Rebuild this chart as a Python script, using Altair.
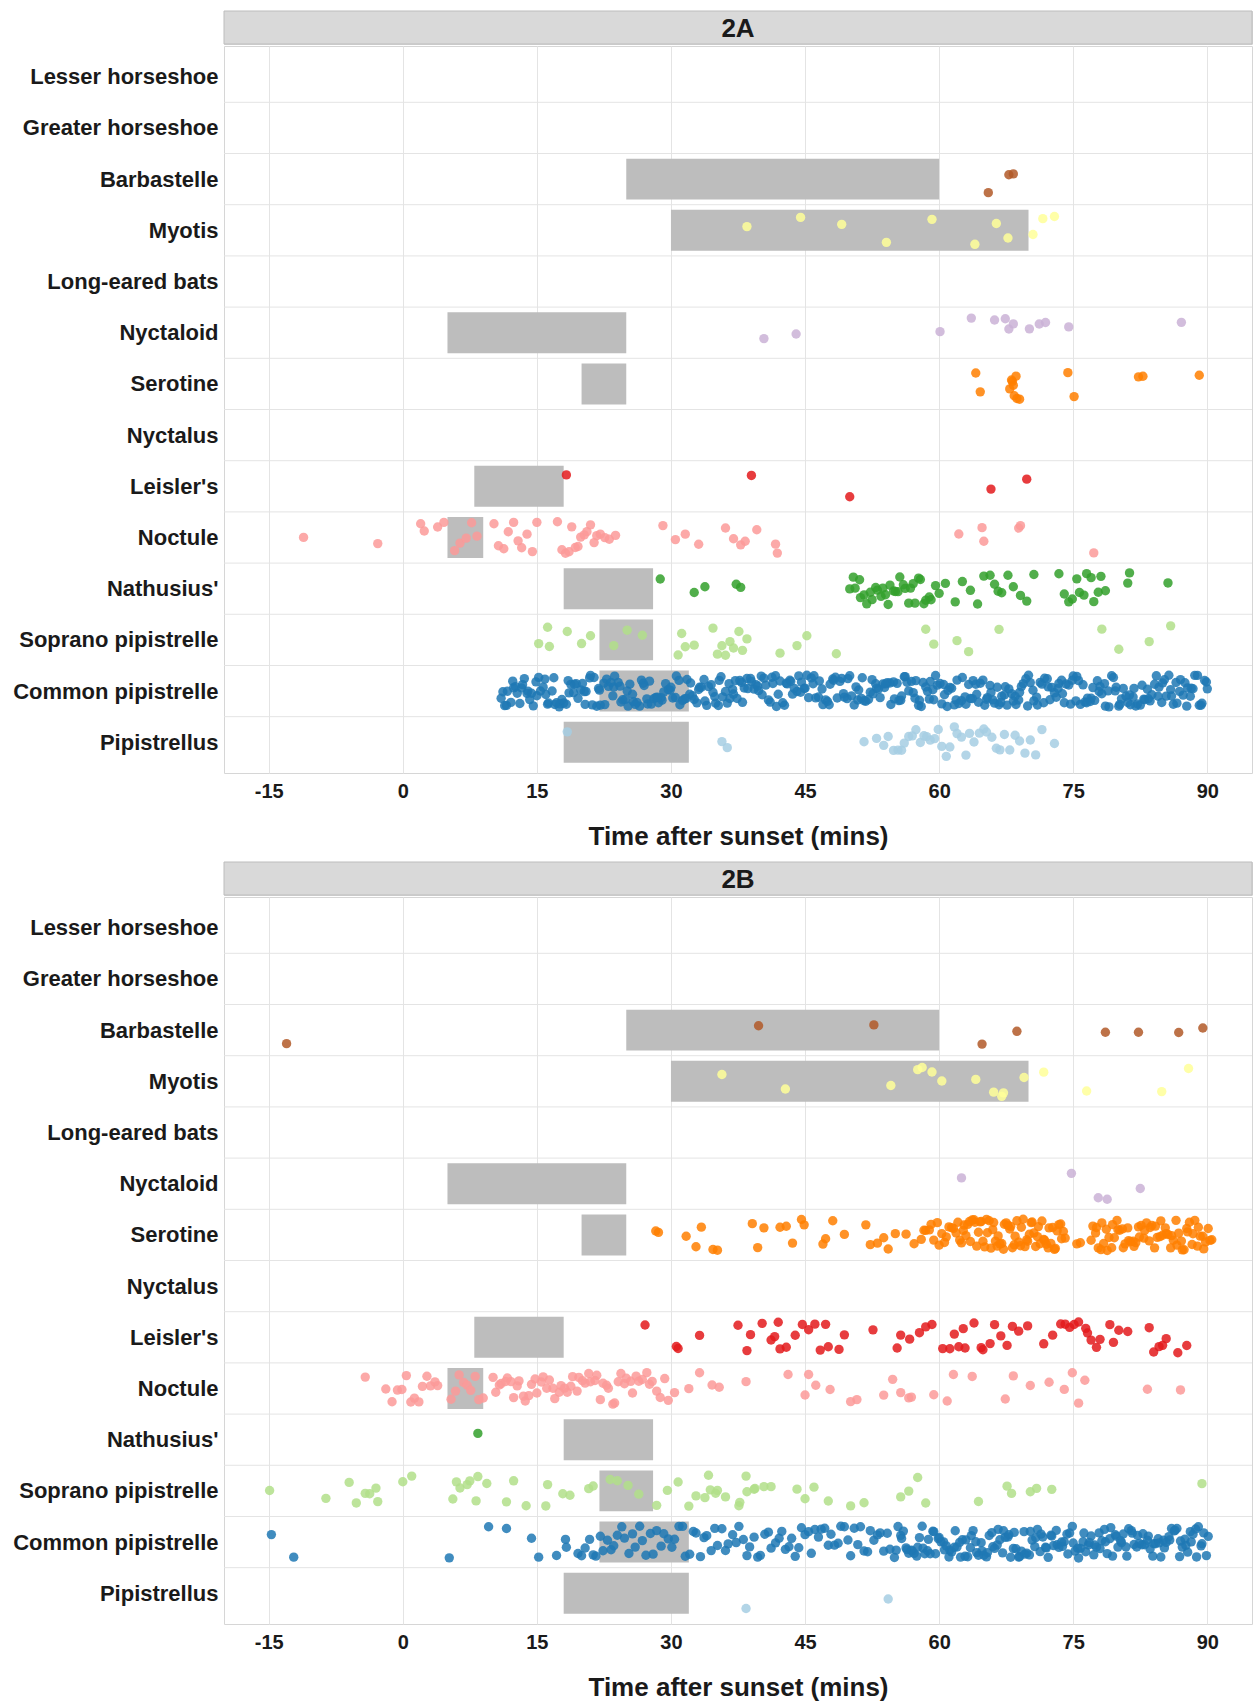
import json
import altair as alt
import pandas as pd

# Species rows, top to bottom
SPECIES = [
    "Lesser horseshoe", "Greater horseshoe", "Barbastelle", "Myotis",
    "Long-eared bats", "Nyctaloid", "Serotine", "Nyctalus", "Leisler's",
    "Noctule", "Nathusius'", "Soprano pipistrelle", "Common pipistrelle",
    "Pipistrellus",
]
COLORS = [
    "#8c8c8c", "#6f6f6f", "#b15928", "#ffff99", "#6a3d9a", "#cab2d6",
    "#ff7f00", "#fdbf6f", "#e31a1c", "#fb9a99", "#33a02c", "#b2df8a",
    "#1f78b4", "#a6cee3",
]

# Expected emergence windows (minutes after sunset)
WINDOW_SPECIES = ["Barbastelle", "Myotis", "Nyctaloid", "Serotine", "Leisler's",
                  "Noctule", "Nathusius'", "Soprano pipistrelle",
                  "Common pipistrelle", "Pipistrellus"]
WINDOW_START = [25, 30, 5, 20, 8, 5, 18, 22, 22, 18]
WINDOW_END = [60, 70, 25, 25, 18, 9, 28, 28, 32, 32]

X_TICKS = [-15, 0, 15, 30, 45, 60, 75, 90]

# ---- Site 2A: first pass times (minutes after sunset) ----
barb_A = [65.5, 67.8, 68.3]
myotis_A = [38.5, 44.5, 49.1, 54.1, 59.2, 64.0, 66.4, 67.7, 70.5, 71.6, 72.9]
nyctaloid_A = [40.4, 44.0, 60.1, 63.6, 66.2, 67.4, 67.8, 68.3, 70.1, 71.2, 71.9,
               74.5, 87.1]
serotine_A = [64.1, 64.6, 67.9, 68.1, 68.2, 68.3, 68.4, 68.6, 68.7, 69.0, 74.4,
              75.1, 82.3, 82.8, 89.1]
leisler_A = [18.3, 39.0, 50.0, 65.8, 69.8]
noctule_A = [-11.1, -2.8, 2.0, 2.4, 3.9, 4.6, 5.8, 6.4, 7.1, 7.7, 8.3, 10.2,
             10.7, 11.3, 11.8, 12.4, 12.9, 13.3, 13.9, 14.5, 15.0, 17.3, 17.8,
             18.2, 18.6, 18.9, 19.3, 19.6, 19.9, 20.3, 20.6, 21.0, 21.4, 21.7,
             22.1, 22.6, 23.1, 23.8, 29.1, 30.5, 31.6, 33.1, 36.1, 37.0, 37.8,
             38.3, 39.6, 41.7, 41.9, 62.2, 64.8, 65.0, 68.9, 69.1, 77.3]
nathusius_A = [28.8, 32.6, 33.8, 37.3, 37.8, 50.0, 50.4, 50.6, 51.1, 51.2,
               51.6, 51.9, 52.3, 52.5, 52.9, 53.1, 53.5, 53.7, 54.0, 54.3,
               54.5, 54.9, 55.1, 55.4, 55.6, 56.0, 56.2, 56.6, 56.8, 57.1,
               57.3, 57.7, 57.9, 58.3, 58.5, 58.9, 59.1, 59.6, 60.0, 60.7,
               61.8, 62.6, 63.5, 64.3, 65.0, 65.7, 66.2, 66.6, 67.0, 67.7,
               68.3, 69.1, 69.8, 70.6, 73.4, 74.0, 74.5, 74.9, 75.4, 75.7,
               76.2, 76.5, 77.0, 77.3, 77.8, 78.1, 78.6, 81.1, 81.3, 85.6]
soprano_A = [15.2, 16.2, 16.4, 18.4, 20.0, 21.0, 23.6, 25.1, 26.8, 30.8, 31.2,
             31.6, 32.6, 34.7, 35.2, 35.7, 36.1, 36.6, 37.0, 37.6, 38.0, 38.5,
             42.2, 44.1, 45.2, 48.5, 58.5, 59.4, 62.0, 63.3, 66.7, 78.2, 80.1,
             83.5, 85.9]
common_A = [11.0, 11.2, 11.6, 11.7, 12.1, 12.3, 12.4, 12.8, 13.1, 13.3, 13.6,
            13.9, 14.0, 14.4, 14.6, 14.9, 15.0, 15.4, 15.7, 15.9, 16.2, 16.3,
            16.7, 17.0, 17.2, 17.5, 17.6, 18.0, 18.3, 18.5, 18.8, 19.1, 19.2,
            19.6, 19.9, 20.1, 20.4, 20.5, 20.9, 21.2, 21.4, 21.7, 22.0, 22.1,
            22.5, 22.8, 23.0, 23.3, 23.6, 23.7, 24.1, 24.4, 24.6, 24.9, 25.1,
            25.4, 25.7, 25.8, 26.2, 26.5, 26.7, 27.0, 27.3, 27.4, 27.8, 28.1,
            28.3, 28.6, 28.9, 29.0, 29.4, 29.7, 29.9, 30.2, 30.5, 30.6, 31.0,
            31.3, 31.5, 31.8, 32.1, 32.2, 32.6, 32.9, 33.1, 33.4, 33.7, 33.8,
            34.2, 34.5, 34.7, 35.0, 35.3, 35.4, 35.8, 36.1, 36.3, 36.6, 36.9,
            37.0, 37.4, 37.7, 37.9, 38.2, 38.5, 38.6, 39.0, 39.3, 39.5, 39.8,
            40.1, 40.2, 40.6, 40.9, 41.1, 41.4, 41.7, 41.8, 42.2, 42.5, 42.7,
            43.0, 43.3, 43.4, 43.8, 44.1, 44.3, 44.6, 44.9, 45.0, 45.4, 45.7,
            45.9, 46.2, 46.5, 46.6, 47.0, 47.3, 47.5, 47.8, 48.1, 48.2, 48.6,
            48.9, 49.1, 49.4, 49.7, 49.8, 50.2, 50.5, 50.7, 51.0, 51.3, 51.4,
            51.8, 52.1, 52.3, 52.6, 52.9, 53.0, 53.4, 53.7, 53.9, 54.2, 54.5,
            54.6, 55.0, 55.3, 55.5, 55.8, 56.1, 56.2, 56.6, 56.9, 57.1, 57.4,
            57.7, 57.8, 58.2, 58.5, 58.7, 59.0, 59.3, 59.4, 59.8, 60.1, 60.3,
            60.6, 60.9, 61.0, 61.4, 61.7, 61.9, 62.2, 62.5, 62.6, 63.0, 63.3,
            63.5, 63.8, 64.1, 64.2, 64.6, 64.9, 65.1, 65.4, 65.7, 65.8, 66.2,
            66.5, 66.7, 67.0, 67.3, 67.4, 67.8, 68.1, 68.3, 68.6, 68.9, 69.0,
            69.4, 69.7, 69.9, 70.2, 70.5, 70.6, 71.0, 71.3, 71.5, 71.8, 72.1,
            72.2, 72.6, 72.9, 73.1, 73.4, 73.7, 73.8, 74.2, 74.5, 74.7, 75.0,
            75.3, 75.4, 75.8, 76.1, 76.3, 76.6, 76.9, 77.0, 77.4, 77.7, 77.9,
            78.2, 78.5, 78.6, 79.0, 79.3, 79.5, 79.8, 80.1, 80.2, 80.6, 80.9,
            81.1, 81.4, 81.7, 81.8, 82.2, 82.5, 82.7, 83.0, 83.3, 83.4, 83.8,
            84.1, 84.3, 84.6, 84.9, 85.0, 85.4, 85.7, 85.9, 86.2, 86.5, 86.6,
            87.0, 87.3, 87.5, 87.8, 88.1, 88.2, 88.6, 88.9, 89.1, 89.4, 89.7,
            89.9, 11.4, 12.6, 13.4, 14.2, 15.2, 16.0, 16.9, 17.8, 18.6, 19.4,
            20.3, 21.0, 21.9, 22.6, 23.5, 24.3, 25.2, 26.0, 26.9, 27.6, 28.5,
            29.2, 30.0, 30.9, 31.7, 32.4, 33.2, 34.0, 34.9, 35.6, 36.5, 37.2,
            38.0, 38.9, 39.7, 40.4, 41.3, 42.0, 42.9, 43.6, 44.5, 45.2, 46.0,
            46.9, 47.7, 48.4, 49.3, 50.0, 50.9, 51.6, 52.5, 53.2, 54.0, 54.9,
            55.7, 56.4, 57.3, 58.0, 58.9, 59.6, 60.5, 61.2, 62.0, 62.9, 63.7,
            64.4, 65.3, 66.0, 66.9, 67.6, 68.5, 69.2, 70.0, 70.9, 71.7, 72.4,
            73.3, 74.0, 74.9, 75.6, 76.5, 77.2, 78.0, 78.9, 79.7, 80.4, 81.3,
            82.0, 82.9, 83.6, 84.5, 85.2, 86.0, 86.9, 87.7, 88.4, 89.3, 90.0]
pip_A = [18.4, 35.7, 36.3, 51.6, 53.0, 53.8, 54.3, 54.9, 55.4, 55.8, 56.1,
         56.6, 57.0, 57.4, 57.9, 58.3, 58.6, 59.0, 59.5, 59.9, 60.3, 60.8,
         61.2, 61.7, 62.0, 62.5, 63.0, 63.4, 63.9, 64.5, 65.0, 65.3, 65.9,
         66.4, 66.8, 67.3, 67.9, 68.5, 69.0, 69.6, 70.2, 70.8, 71.5, 72.9]

# ---- Site 2B ----
barb_B = [-13.0, 39.8, 52.7, 64.8, 68.7, 78.6, 82.3, 86.8, 89.5]
myotis_B = [35.7, 42.8, 54.6, 57.6, 58.1, 59.2, 60.3, 64.1, 66.1, 67.0, 67.2,
            69.5, 71.7, 76.5, 84.9, 87.9]
nyctaloid_B = [62.5, 74.8, 77.8, 78.8, 82.5]
serotine_B = [28.3, 28.6, 31.7, 32.8, 33.4, 34.7, 35.2, 39.1, 39.7, 40.4, 42.2,
              42.9, 43.6, 44.6, 44.9, 47.0, 47.3, 48.1, 49.4, 51.8, 52.3, 53.1,
              53.8, 54.3, 55.1, 56.3, 57.2, 58.0, 58.3, 58.5, 58.9, 59.1, 59.4,
              59.8, 60.0, 60.3, 60.6, 60.8, 61.1, 61.4, 61.6, 61.9, 62.1, 62.3,
              62.5, 62.7, 62.8, 63.0, 63.2, 63.4, 63.5, 63.7, 63.9, 64.0, 64.2,
              64.4, 64.6, 64.7, 64.9, 65.1, 65.3, 65.4, 65.6, 65.8, 66.0, 66.1,
              66.3, 66.5, 66.6, 66.8, 67.0, 67.2, 67.3, 67.5, 67.7, 67.9, 68.0,
              68.2, 68.4, 68.5, 68.7, 68.9, 69.1, 69.2, 69.4, 69.6, 69.8, 69.9,
              70.1, 70.3, 70.4, 70.6, 70.8, 71.0, 71.1, 71.3, 71.5, 71.7, 71.8,
              72.0, 72.2, 72.3, 72.5, 72.7, 72.9, 73.0, 73.2, 73.4, 73.6, 73.7,
              73.9, 74.1, 75.4, 75.8, 77.0, 77.2, 77.5, 77.6, 77.8, 78.1, 78.2,
              78.4, 78.7, 78.8, 79.0, 79.3, 79.4, 79.6, 79.9, 80.0, 80.2, 80.5,
              80.6, 80.8, 81.1, 81.2, 81.4, 81.7, 81.8, 82.0, 82.3, 82.4, 82.6,
              82.9, 83.0, 83.2, 83.5, 83.6, 83.8, 84.1, 84.2, 84.4, 84.7, 84.8,
              85.0, 85.3, 85.4, 85.6, 85.9, 86.0, 86.2, 86.5, 86.6, 86.8, 87.1,
              87.2, 87.4, 87.7, 87.8, 88.0, 88.3, 88.4, 88.6, 88.9, 89.0, 89.2,
              89.5, 89.6, 89.8, 90.1, 90.3, 90.5]
leisler_B = [27.1, 30.6, 30.8, 33.2, 37.5, 38.5, 38.9, 40.2, 41.2, 41.6, 42.0,
             42.2, 42.9, 43.9, 44.7, 45.4, 46.1, 46.7, 47.3, 47.6, 48.8, 49.4,
             52.6, 55.3, 55.7, 56.7, 57.8, 58.5, 59.2, 60.4, 61.2, 61.7, 62.2,
             62.7, 62.9, 63.9, 64.7, 64.9, 65.7, 66.2, 66.9, 67.6, 68.2, 68.9,
             69.9, 71.7, 72.7, 73.6, 74.1, 74.6, 75.1, 75.6, 76.4, 76.6, 77.0,
             77.6, 78.0, 79.1, 79.5, 80.1, 81.1, 83.5, 84.0, 84.6, 85.0, 85.4,
             86.7, 87.7]
noctule_B = [-4.2, -1.9, -1.2, -0.6, -0.1, 0.4, 0.9, 1.3, 1.8, 2.2, 2.7, 3.1,
             3.6, 3.9, 5.4, 5.9, 6.3, 6.8, 7.2, 7.6, 8.1, 8.5, 9.0, 10.1, 10.4,
             10.8, 11.0, 11.5, 11.7, 12.1, 12.4, 12.8, 13.0, 13.5, 13.7, 14.1,
             14.4, 14.8, 15.0, 15.5, 15.7, 16.1, 16.4, 16.8, 17.0, 17.5, 17.7,
             18.1, 18.4, 18.8, 19.0, 19.5, 19.7, 20.1, 20.4, 20.8, 21.0, 21.5,
             21.7, 22.1, 22.4, 22.8, 23.0, 23.5, 23.7, 24.1, 24.4, 24.8, 25.0,
             25.5, 25.7, 26.1, 26.4, 26.8, 27.3, 27.6, 27.9, 28.4, 28.8, 29.3,
             29.7, 30.4, 32.0, 33.2, 34.6, 35.4, 38.4, 43.1, 45.0, 45.4, 46.2,
             47.8, 50.1, 50.8, 53.8, 54.8, 55.7, 56.6, 56.9, 59.4, 60.9, 61.6,
             63.7, 67.4, 68.3, 70.2, 72.3, 74.0, 74.9, 75.6, 76.3, 83.3, 87.0]
nathusius_B = [8.4]
soprano_B = [-14.9, -8.6, -6.0, -5.2, -4.2, -3.7, -3.0, -2.8, 0.0, 1.0, 5.6,
             6.0, 6.4, 7.2, 7.5, 8.2, 8.4, 9.4, 11.6, 12.4, 13.8, 16.0, 16.2,
             17.9, 18.7, 20.8, 21.3, 23.2, 24.0, 25.2, 26.4, 28.4, 29.6, 30.8,
             32.0, 32.8, 33.8, 34.2, 34.4, 35.0, 35.2, 36.1, 37.6, 37.7, 38.4,
             38.5, 39.3, 39.4, 40.4, 41.2, 44.1, 45.0, 46.0, 47.6, 50.1, 51.6,
             55.7, 56.6, 57.6, 58.5, 64.4, 67.6, 68.1, 70.2, 70.9, 72.6, 89.4]
common_B = [-14.7, -12.2, 5.2, 9.6, 11.6, 14.4, 15.2, 17.2, 18.2, 18.3, 19.6,
            20.0, 20.4, 20.9, 21.3, 21.6, 22.1, 22.4, 22.9, 23.3, 23.6, 24.0,
            24.5, 24.8, 25.3, 25.7, 26.0, 26.5, 26.8, 27.2, 27.7, 28.0, 28.4,
            28.9, 29.2, 29.7, 30.1, 30.4, 30.9, 31.3, 31.6, 32.1, 32.5, 32.8,
            33.3, 33.7, 34.0, 34.5, 34.9, 35.2, 35.7, 36.1, 36.4, 36.9, 37.3,
            37.6, 38.1, 38.5, 38.8, 39.3, 39.7, 40.0, 40.5, 40.9, 41.2, 41.7,
            42.1, 42.4, 42.8, 43.2, 43.5, 43.9, 44.3, 44.6, 45.0, 45.4, 45.7,
            46.1, 46.5, 46.8, 47.2, 47.6, 47.9, 48.3, 48.7, 49.0, 49.4, 49.8,
            50.1, 50.5, 50.9, 51.2, 51.6, 52.0, 52.3, 52.7, 53.1, 53.4, 53.8,
            54.2, 54.5, 55.0, 55.2, 55.4, 55.7, 55.8, 56.0, 56.3, 56.4, 56.6,
            56.9, 57.0, 57.2, 57.5, 57.6, 57.8, 58.1, 58.2, 58.4, 58.7, 58.8,
            59.0, 59.3, 59.4, 59.6, 59.9, 60.0, 60.2, 60.5, 60.6, 60.8, 61.1,
            61.2, 61.4, 61.7, 61.8, 62.0, 62.3, 62.4, 62.6, 62.9, 63.0, 63.2,
            63.5, 63.6, 63.8, 64.1, 64.2, 64.4, 64.7, 64.8, 65.0, 65.3, 65.4,
            65.6, 65.9, 66.0, 66.2, 66.5, 66.6, 66.8, 67.1, 67.2, 67.4, 67.7,
            67.8, 68.0, 68.3, 68.4, 68.6, 68.9, 69.0, 69.2, 69.5, 69.6, 69.8,
            70.1, 70.2, 70.4, 70.7, 70.8, 71.0, 71.3, 71.4, 71.6, 71.9, 72.0,
            72.2, 72.5, 72.6, 72.8, 73.1, 73.2, 73.4, 73.7, 73.8, 74.0, 74.3,
            74.4, 74.6, 74.9, 75.0, 75.2, 75.5, 75.6, 75.8, 76.1, 76.2, 76.4,
            76.7, 76.8, 77.0, 77.3, 77.4, 77.6, 77.9, 78.0, 78.2, 78.5, 78.6,
            78.8, 79.1, 79.2, 79.4, 79.7, 79.8, 80.0, 80.3, 80.4, 80.6, 80.9,
            81.0, 81.2, 81.5, 81.6, 81.8, 82.1, 82.2, 82.4, 82.7, 82.8, 83.0,
            83.3, 83.4, 83.6, 83.9, 84.0, 84.2, 84.5, 84.6, 84.8, 85.1, 85.2,
            85.4, 85.7, 85.8, 86.0, 86.3, 86.4, 86.6, 86.9, 87.0, 87.2, 87.5,
            87.6, 87.8, 88.1, 88.2, 88.4, 88.7, 88.8, 89.0, 89.3, 89.4, 89.6,
            89.9, 90.1]
pip_B = [38.4, 54.3]

SITE_A = {"Barbastelle": barb_A, "Myotis": myotis_A, "Nyctaloid": nyctaloid_A,
          "Serotine": serotine_A, "Leisler's": leisler_A, "Noctule": noctule_A,
          "Nathusius'": nathusius_A, "Soprano pipistrelle": soprano_A,
          "Common pipistrelle": common_A, "Pipistrellus": pip_A}
SITE_B = {"Barbastelle": barb_B, "Myotis": myotis_B, "Nyctaloid": nyctaloid_B,
          "Serotine": serotine_B, "Leisler's": leisler_B, "Noctule": noctule_B,
          "Nathusius'": nathusius_B, "Soprano pipistrelle": soprano_B,
          "Common pipistrelle": common_B, "Pipistrellus": pip_B}

PLOT_W = 1028
PLOT_H = 727
STRIP_H = 33
FONT = "Liberation Sans"

x_scale = alt.Scale(domain=[-20, 95], nice=False, zero=False)
y_scale = alt.Scale(domain=[-0.6, len(SPECIES) - 0.4], reverse=True,
                    nice=False, zero=False)
color_scale = alt.Scale(domain=SPECIES, range=COLORS)

windows = pd.DataFrame({
    "species": WINDOW_SPECIES,
    "start": WINDOW_START,
    "end": WINDOW_END,
})
windows["lo"] = [SPECIES.index(s) - 0.4 for s in WINDOW_SPECIES]
windows["hi"] = [SPECIES.index(s) + 0.4 for s in WINDOW_SPECIES]

edges = pd.DataFrame({"edge": [i + 0.5 for i in range(len(SPECIES) - 1)]})


def strip(label):
    df = pd.DataFrame({"label": [label]})
    box = alt.Chart(df).mark_rect(fill="#d9d9d9", stroke="#bdbdbd",
                                  strokeWidth=1).encode(
        x=alt.value(0), x2=alt.value(PLOT_W), y=alt.value(0),
        y2=alt.value(STRIP_H))
    txt = alt.Chart(df).mark_text(font=FONT, fontSize=26, fontWeight="bold",
                                  color="#1a1a1a", baseline="middle",
                                  align="center").encode(
        x=alt.value(PLOT_W / 2), y=alt.value(STRIP_H / 2 + 1), text="label:N")
    return alt.layer(box, txt).properties(width=PLOT_W, height=STRIP_H)


def panel(site):
    rows = []
    for sp, vals in site.items():
        for v in vals:
            rows.append({"species": sp, "minutes": v, "idx": SPECIES.index(sp)})
    obs = pd.DataFrame(rows)

    y_axis = alt.Axis(
        values=list(range(len(SPECIES))),
        labelExpr=json.dumps(SPECIES) + "[datum.value]",
        grid=False, ticks=False, domain=False, title=None,
        labelFont=FONT, labelFontSize=22, labelFontWeight="bold",
        labelColor="#1a1a1a", labelPadding=6, labelLimit=260,
        minExtent=219, maxExtent=219,
    )
    x_axis = alt.Axis(
        values=X_TICKS, labelExpr="'' + datum.value", grid=True,
        gridColor="#e4e4e4", gridWidth=1, ticks=False, domain=False,
        labelFont=FONT, labelFontSize=20, labelFontWeight="bold",
        labelColor="#1a1a1a", labelPadding=8,
        title="Time after sunset (mins)", titleFont=FONT, titleFontSize=26,
        titleFontWeight="bold", titleColor="#1a1a1a", titlePadding=22,
    )

    grid = alt.Chart(edges).mark_rule(color="#e4e4e4", strokeWidth=1).encode(
        y=alt.Y("edge:Q", scale=y_scale, axis=y_axis),
    )
    bars = alt.Chart(windows).mark_rect(color="#bdbdbd").encode(
        x=alt.X("start:Q", scale=x_scale, axis=x_axis),
        x2="end:Q",
        y=alt.Y("lo:Q", scale=y_scale),
        y2="hi:Q",
    )
    points = alt.Chart(obs).transform_window(
        rn="row_number()"
    ).transform_calculate(
        h="abs(sin(datum.rn * 12.9898 + datum.idx * 78.233) * 43758.5453)"
    ).transform_calculate(
        yj="datum.idx + (datum.h - floor(datum.h) - 0.5) * 0.62"
    ).mark_circle(size=88, opacity=0.85).encode(
        x=alt.X("minutes:Q", scale=x_scale),
        y=alt.Y("yj:Q", scale=y_scale),
        color=alt.Color("species:N", scale=color_scale, legend=None),
    )
    return alt.layer(grid, bars, points).properties(width=PLOT_W, height=PLOT_H)


block_a = alt.vconcat(strip("2A"), panel(SITE_A), spacing=0)
block_b = alt.vconcat(strip("2B"), panel(SITE_B), spacing=0)

chart = alt.vconcat(block_a, block_b, spacing=11).properties(
    padding={"left": 4, "top": 10, "right": 0, "bottom": 0},
    background="white",
).configure_view(stroke="#d6d6d6", strokeWidth=1)

chart.save("out.html", embed_options={"renderer": "svg", "actions": False})
